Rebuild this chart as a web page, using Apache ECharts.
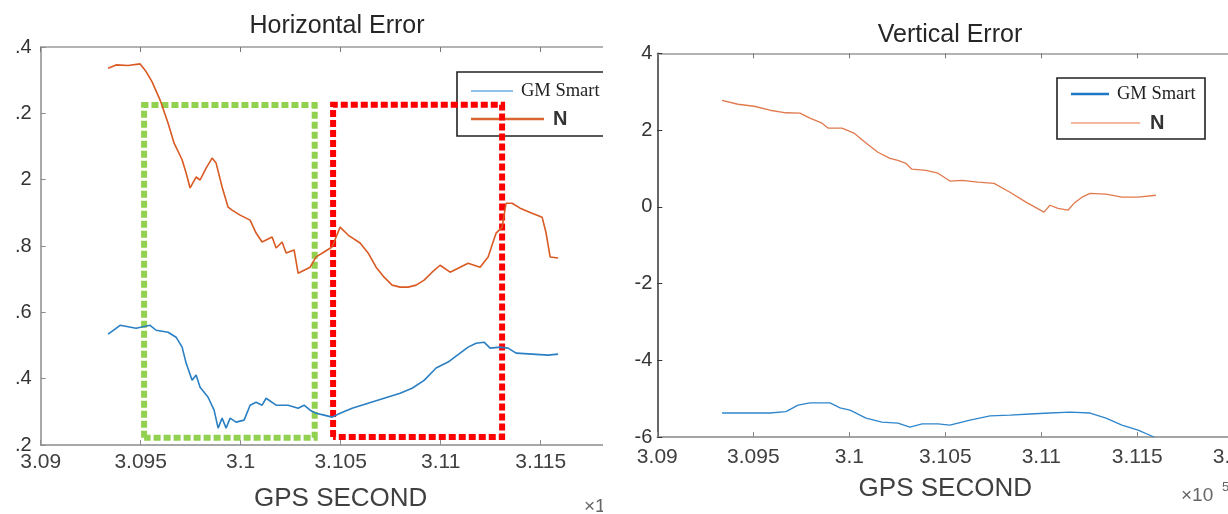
<!DOCTYPE html>
<html>
<head>
<meta charset="utf-8">
<script src="https://cdn.jsdelivr.net/npm/echarts@6/dist/echarts.min.js"></script>
<style>
html,body{margin:0;padding:0;background:#fff;width:1228px;height:514px;overflow:hidden;position:relative}
#h{position:absolute;left:15px;top:0;width:588px;height:514px}
#v{position:absolute;left:603px;top:0;width:625px;height:514px}
</style>
</head>
<body>
<div id="h"></div>
<div id="v"></div>
<script>
// ---- Data (x in GPS seconds x10^5) ----
const xTicksMin = 3.09, xTicksMax = 3.12, xStep = 0.005;
const hYMin = 1.2, hYMax = 2.4, hYStep = 0.2;
const vYMin = -6, vYMax = 4, vYStep = 2;
const seriesNames = ['GM Smart', 'N'];

const hzGmSmart = [
 [3.09337,1.534],[3.09397,1.561],[3.09477,1.552],[3.09547,1.561],[3.09577,1.546],[3.09637,1.540],
 [3.09677,1.525],[3.09707,1.495],[3.09727,1.447],[3.09757,1.395],[3.09777,1.411],[3.09797,1.374],
 [3.09837,1.344],[3.09867,1.305],[3.09887,1.251],[3.09907,1.281],[3.09927,1.251],[3.09947,1.281],
 [3.09977,1.269],[3.10017,1.275],[3.10047,1.320],[3.10077,1.329],[3.10107,1.320],[3.10127,1.341],
 [3.10177,1.320],[3.10237,1.320],[3.10287,1.311],[3.10317,1.320],[3.10347,1.305],[3.10377,1.296],
 [3.10417,1.290],[3.10457,1.284],[3.10497,1.296],[3.10557,1.311],[3.10637,1.326],[3.10717,1.341],
 [3.10797,1.356],[3.10857,1.371],[3.10917,1.395],[3.10977,1.432],[3.11037,1.450],[3.11097,1.477],
 [3.11137,1.495],[3.11177,1.507],[3.11217,1.510],[3.11247,1.492],[3.11297,1.495],[3.11337,1.492],
 [3.11377,1.477],[3.11457,1.474],[3.11537,1.471],[3.11587,1.474]
];
const hzN = [
 [3.09337,2.336],[3.09377,2.346],[3.09437,2.344],[3.09497,2.349],[3.09527,2.326],[3.09557,2.295],
 [3.09597,2.240],[3.09637,2.170],[3.09667,2.110],[3.09707,2.060],[3.09727,2.020],[3.09747,1.975],
 [3.09777,2.008],[3.09797,1.999],[3.09827,2.035],[3.09857,2.065],[3.09877,2.050],[3.09907,1.978],
 [3.09937,1.917],[3.09957,1.908],[3.09997,1.893],[3.10047,1.878],[3.10077,1.839],[3.10107,1.812],
 [3.10157,1.827],[3.10177,1.794],[3.10207,1.812],[3.10227,1.779],[3.10267,1.788],[3.10287,1.718],
 [3.10317,1.727],[3.10347,1.736],[3.10377,1.767],[3.10417,1.782],[3.10457,1.797],[3.10497,1.857],
 [3.10537,1.833],[3.10597,1.809],[3.10637,1.779],[3.10677,1.736],[3.10717,1.706],[3.10757,1.682],
 [3.10797,1.676],[3.10837,1.676],[3.10877,1.682],[3.10917,1.697],[3.10957,1.721],[3.10997,1.742],
 [3.11047,1.721],[3.11097,1.736],[3.11137,1.748],[3.11197,1.736],[3.11237,1.767],[3.11277,1.839],
 [3.11307,1.857],[3.11327,1.929],[3.11357,1.929],[3.11397,1.914],[3.11457,1.899],[3.11507,1.887],
 [3.11527,1.839],[3.11547,1.767],[3.11587,1.764]
];
const vtGmSmart = [
 [3.09337,-5.375],[3.09587,-5.375],[3.09670,-5.34],[3.09733,-5.17],[3.09795,-5.11],[3.09899,-5.11],
 [3.09952,-5.24],[3.10004,-5.30],[3.10087,-5.51],[3.10170,-5.61],[3.10253,-5.64],[3.10316,-5.74],
 [3.10379,-5.66],[3.10462,-5.66],[3.10524,-5.69],[3.10629,-5.56],[3.10733,-5.45],[3.10837,-5.43],
 [3.10941,-5.40],[3.11045,-5.375],[3.11149,-5.35],[3.11254,-5.375],[3.11337,-5.51],[3.11420,-5.69],
 [3.11504,-5.82],[3.11587,-6.0]
];
const vtN = [
 [3.09337,2.776],[3.09420,2.672],[3.09504,2.62],[3.09587,2.516],[3.09670,2.45],[3.09743,2.44],
 [3.09795,2.31],[3.09858,2.18],[3.09889,2.05],[3.09962,2.05],[3.10024,1.92],[3.10087,1.66],
 [3.10149,1.42],[3.10212,1.26],[3.10253,1.21],[3.10295,1.13],[3.10326,0.98],[3.10399,0.95],
 [3.10462,0.875],[3.10524,0.67],[3.10587,0.69],[3.10670,0.64],[3.10754,0.61],[3.10837,0.38],
 [3.10920,0.12],[3.11014,-0.14],[3.11045,0.04],[3.11087,-0.04],[3.11139,-0.09],[3.11170,0.09],
 [3.11212,0.25],[3.11254,0.35],[3.11337,0.33],[3.11420,0.25],[3.11504,0.25],[3.11597,0.30]
];
// highlighted ranges (data units): [xStart, xEnd, yLow, yHigh]
const greenRange = [3.09517, 3.1037, 1.222, 2.225];
const redRange = [3.10462, 3.11307, 1.224, 2.226];

// ---- helpers ----
const SANS = 'Liberation Sans, Arial, sans-serif';
const SERIF = 'Liberation Serif, Times New Roman, serif';
function boxPath(r){ return [[r[0],r[2]],[r[0],r[3]],[r[1],r[3]],[r[1],r[2]],[r[0],r[2]]]; }
const fx = v => String(+(+v).toFixed(3));
const fy = v => String(+(+v).toFixed(1));

function xAxes(c){
  return [
    {type:'value', min:xTicksMin, max:xTicksMax, interval:xStep, position:'bottom',
     axisLine:{show:true, onZero:false, lineStyle:{color:c.bottom, width:1.5}},
     axisTick:{show:true, inside:true, length:5, lineStyle:{color:c.bottom}},
     axisLabel:{margin:c.xMargin, fontSize:21, color:'#404040', fontFamily:SANS, formatter:fx, showMinLabel:true, showMaxLabel:true, hideOverlap:false},
     splitLine:{show:false},
     name:'GPS SECOND', nameLocation:'middle', nameGap:c.nameGap,
     nameTextStyle:{fontSize:26, color:'#404040', fontFamily:SANS}},
    {type:'value', min:xTicksMin, max:xTicksMax, interval:xStep, position:'top',
     axisLine:{show:true, onZero:false, lineStyle:{color:'#9a9a9a', width:1.5}},
     axisTick:{show:true, inside:true, length:5, lineStyle:{color:'#777'}},
     axisLabel:{show:false}, splitLine:{show:false}}
  ];
}
function yAxis(min,max,step,c){
  return {type:'value', min:min, max:max, interval:step,
    axisLine:{show:true, onZero:false, lineStyle:{color:c.left, width:1.5}},
    axisTick:{show:true, inside:true, length:5, lineStyle:{color:c.left}},
    axisLabel:{margin:c.yMargin, fontSize:20, color:'#333', fontFamily:SANS, formatter:fy, showMinLabel:true, showMaxLabel:true},
    splitLine:{show:false}};
}
function lineSeries(name, data, color, width){
  return {name:name, type:'line', data:data, showSymbol:false, symbol:'none', z:3,
    lineStyle:{color:color, width:width}, itemStyle:{color:color}, animation:false};
}
function legendGraphics(L){
  return [
    {type:'rect', z:0, shape:{x:L.x, y:L.y, width:L.w, height:L.h}, style:{fill:'#fff', stroke:'#222', lineWidth:1.6}},
    {type:'line', z:0, shape:{x1:L.lx, y1:L.y1, x2:L.bx2, y2:L.y1}, style:{stroke:L.c1, lineWidth:L.w1}},
    {type:'text', z:0, x:L.tx1, y:L.y1, style:{text:seriesNames[0], fill:'#222', fontSize:18.5, fontFamily:SERIF, verticalAlign:'middle', align:'left'}},
    {type:'line', z:0, shape:{x1:L.lx, y1:L.y2, x2:L.ox2, y2:L.y2}, style:{stroke:L.c2, lineWidth:L.w2}},
    {type:'text', z:0, x:L.tx2, y:L.y2, style:{text:seriesNames[1], fill:'#333', fontSize:20, fontWeight:'bold', fontFamily:SANS, verticalAlign:'middle', align:'left'}}
  ];
}

// ---- Horizontal Error chart ----
const hChart = echarts.init(document.getElementById('h'), null, {renderer:'canvas'});
const hCfg = {bottom:'#8c8c8c', left:'#8c8c8c', xMargin:7, yMargin:9, nameGap:41};
hChart.setOption({
  animation:false,
  backgroundColor:'#fff',
  grid:{left:25.7, top:47, width:600, height:398, outerBoundsMode:'none', containLabel:false},
  xAxis:xAxes(hCfg),
  yAxis:yAxis(hYMin,hYMax,hYStep,hCfg),
  series:[
    lineSeries(seriesNames[0], hzGmSmart, '#2b7fc3', 1.6),
    lineSeries(seriesNames[1], hzN, '#d95a22', 1.6),
    {name:'range1', type:'line', data:boxPath(greenRange), symbol:'none', silent:true, z:1,
     lineStyle:{color:'#92d050', width:6, type:[7,3], cap:'butt', join:'miter'}},
    {name:'range2', type:'line', data:boxPath(redRange), symbol:'none', silent:true, z:1,
     lineStyle:{color:'#ff0000', width:6, type:[7,3], cap:'butt', join:'miter'}}
  ],
  graphic:[
    {type:'text', x:322, y:26, style:{text:'Horizontal Error', fill:'#262626', fontSize:25, fontFamily:SANS, align:'center', verticalAlign:'middle'}},
    {type:'text', x:569, y:507, style:{text:'×10', fill:'#666', fontSize:19, fontFamily:SANS, align:'left', verticalAlign:'middle'}}
  ].concat(legendGraphics({x:442, y:72, w:200, h:64, lx:456, y1:91, bx2:498, tx1:506, y2:119, ox2:529, tx2:538,
      c1:'#8fc1e6', w1:2, c2:'#d9652f', w2:2.5}))
});

// ---- Vertical Error chart ----
const vChart = echarts.init(document.getElementById('v'), null, {renderer:'canvas'});
const vCfg = {bottom:'#888', left:'#333', xMargin:10, yMargin:5, nameGap:39};
vChart.setOption({
  animation:false,
  backgroundColor:'#fff',
  grid:{left:54.3, top:53.3, width:576, height:383.7, outerBoundsMode:'none', containLabel:false},
  xAxis:xAxes(vCfg),
  yAxis:yAxis(vYMin,vYMax,vYStep,vCfg),
  series:[
    lineSeries(seriesNames[0], vtGmSmart, '#2f86cc', 1.3),
    lineSeries(seriesNames[1], vtN, '#e07a4e', 1.3)
  ],
  graphic:[
    {type:'text', x:347, y:35, style:{text:'Vertical Error', fill:'#262626', fontSize:25, fontFamily:SANS, align:'center', verticalAlign:'middle'}},
    {type:'text', x:578, y:496, style:{text:'×10', fill:'#666', fontSize:19, fontFamily:SANS, align:'left', verticalAlign:'middle'}},
    {type:'text', x:619, y:487, style:{text:'5', fill:'#666', fontSize:13, fontFamily:SANS, align:'left', verticalAlign:'middle'}}
  ].concat(legendGraphics({x:454, y:78, w:148, h:61, lx:468, y1:94, bx2:506, tx1:514, y2:123, ox2:537, tx2:547,
      c1:'#1f77c8', w1:2.5, c2:'#f2a07c', w2:1.5}))
});
</script>
</body>
</html>
